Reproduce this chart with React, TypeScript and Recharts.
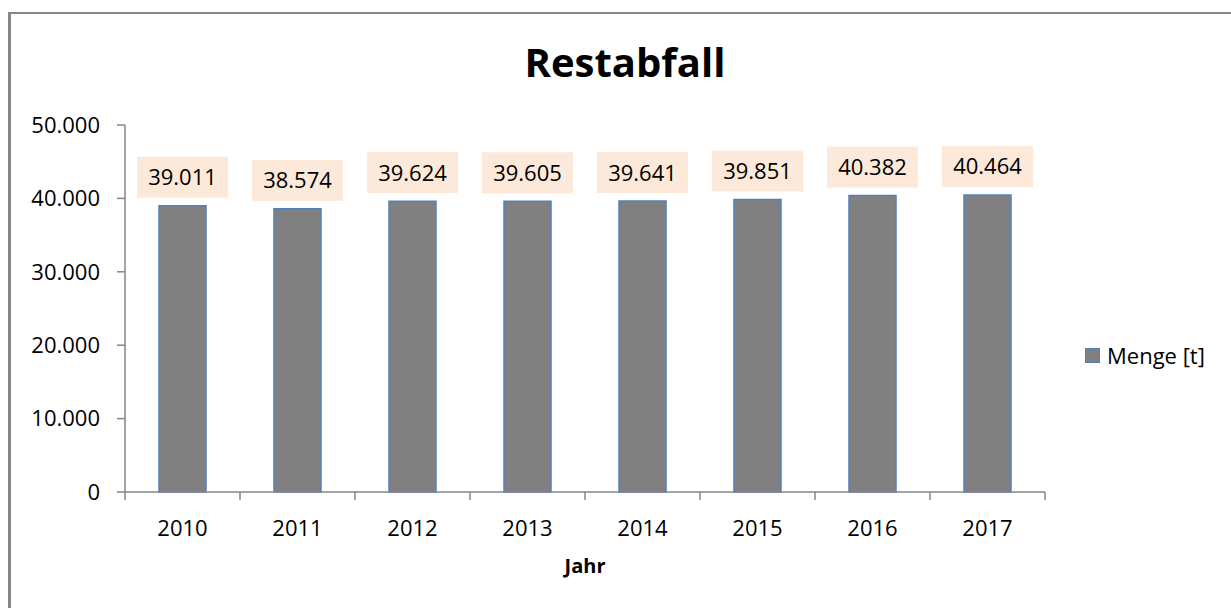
import { BarChart, Bar, XAxis, YAxis, LabelList } from "recharts";

// Restabfall, Menge in Tonnen pro Jahr
const years = ["2010", "2011", "2012", "2013", "2014", "2015", "2016", "2017"];
const mengeValues = [39011, 38574, 39624, 39605, 39641, 39851, 40382, 40464];
const yTicks = [0, 10000, 20000, 30000, 40000, 50000];

const data = years.map((jahr, i) => ({ jahr, menge: mengeValues[i] }));

const FONT = "'Open Sans', sans-serif";
const AXIS = "#868686";
const BAR_FILL = "#808080";
const BAR_STROKE = "#4F81BD";
const LABEL_BG = "#FDE9D9";

const W = 1231;
const H = 608;
const PLOT_LEFT = 125;
const PLOT_RIGHT = 1045;
const PLOT_TOP = 125;
const PLOT_BOTTOM = 492;
const BAND = (PLOT_RIGHT - PLOT_LEFT) / years.length;

const fmt = (v: number) => String(v).replace(/\B(?=(\d{3})+(?!\d))/g, ".");

// Excel-style category axis: tick marks between categories
const XTick = (props: any) => {
  const { x, y, payload, index } = props;
  const last = index === years.length - 1;
  return (
    <g>
      <line x1={x - BAND / 2} y1={y} x2={x - BAND / 2} y2={y + 8} stroke={AXIS} strokeWidth={1.5} />
      {last && <line x1={x + BAND / 2} y1={y} x2={x + BAND / 2} y2={y + 8} stroke={AXIS} strokeWidth={1.5} />}
      <text x={x} y={y + 44} textAnchor="middle" fill="#000" fontSize={22} fontFamily={FONT}>
        {payload.value}
      </text>
    </g>
  );
};

const ValueLabel = (props: any) => {
  const { x, y, width, value } = props;
  const cx = x + width / 2;
  const boxW = 91;
  const boxH = 41;
  const top = y - 8 - boxH;
  return (
    <g>
      <rect x={cx - boxW / 2} y={top} width={boxW} height={boxH} fill={LABEL_BG} />
      <text x={cx} y={top + boxH / 2 + 8} textAnchor="middle" fill="#000" fontSize={22} fontFamily={FONT}>
        {fmt(value)}
      </text>
    </g>
  );
};

export default function App() {
  return (
    <div style={{ position: "relative", width: W, height: H, overflow: "hidden", background: "#fff", fontFamily: FONT }}>
      <style>{`body{margin:0;overflow:hidden}`}</style>
      <div
        style={{
          position: "absolute",
          left: 8,
          top: 12,
          width: 1300,
          height: 700,
          borderLeft: `3px solid ${AXIS}`,
          borderTop: `2px solid ${AXIS}`,
          boxSizing: "border-box",
        }}
      />
      <div
        style={{
          position: "absolute",
          left: 0,
          width: 1250,
          top: 34,
          textAlign: "center",
          fontSize: 40,
          fontWeight: 700,
          lineHeight: "56px",
          color: "#000",
        }}
      >
        Restabfall
      </div>
      <BarChart
        width={W}
        height={H}
        data={data}
        margin={{ top: PLOT_TOP, right: W - PLOT_RIGHT, bottom: 0, left: 0 }}
        barSize={47}
        style={{ position: "absolute", left: 0, top: 0 }}
      >
        <XAxis
          dataKey="jahr"
          height={H - PLOT_BOTTOM}
          stroke={AXIS}
          strokeWidth={1.5}
          tickLine={false}
          tickSize={0}
          tickMargin={0}
          tick={<XTick />}
          interval={0}
        />
        <YAxis
          width={PLOT_LEFT}
          domain={[0, 50000]}
          ticks={yTicks}
          tickFormatter={fmt}
          stroke={AXIS}
          strokeWidth={1.5}
          tickSize={8}
          tickMargin={17}
          tick={{ fill: "#000", fontSize: 22, fontFamily: FONT }}
        />
        <Bar dataKey="menge" name="Menge [t]" fill={BAR_FILL} stroke={BAR_STROKE} strokeWidth={1.5} isAnimationActive={false}>
          <LabelList dataKey="menge" content={<ValueLabel />} />
        </Bar>
      </BarChart>
      <div
        style={{
          position: "absolute",
          left: 585 - 100,
          width: 200,
          top: 551,
          textAlign: "center",
          fontSize: 20,
          fontWeight: 700,
          lineHeight: "30px",
          color: "#000",
        }}
      >
        Jahr
      </div>
      <div style={{ position: "absolute", left: 1085, top: 339, display: "flex", alignItems: "center" }}>
        <span
          style={{
            display: "inline-block",
            width: 13,
            height: 13,
            background: BAR_FILL,
            border: `1.5px solid ${BAR_STROKE}`,
            marginRight: 7,
          }}
        />
        <span style={{ fontSize: 22, lineHeight: "32px", color: "#000" }}>Menge [t]</span>
      </div>
    </div>
  );
}
